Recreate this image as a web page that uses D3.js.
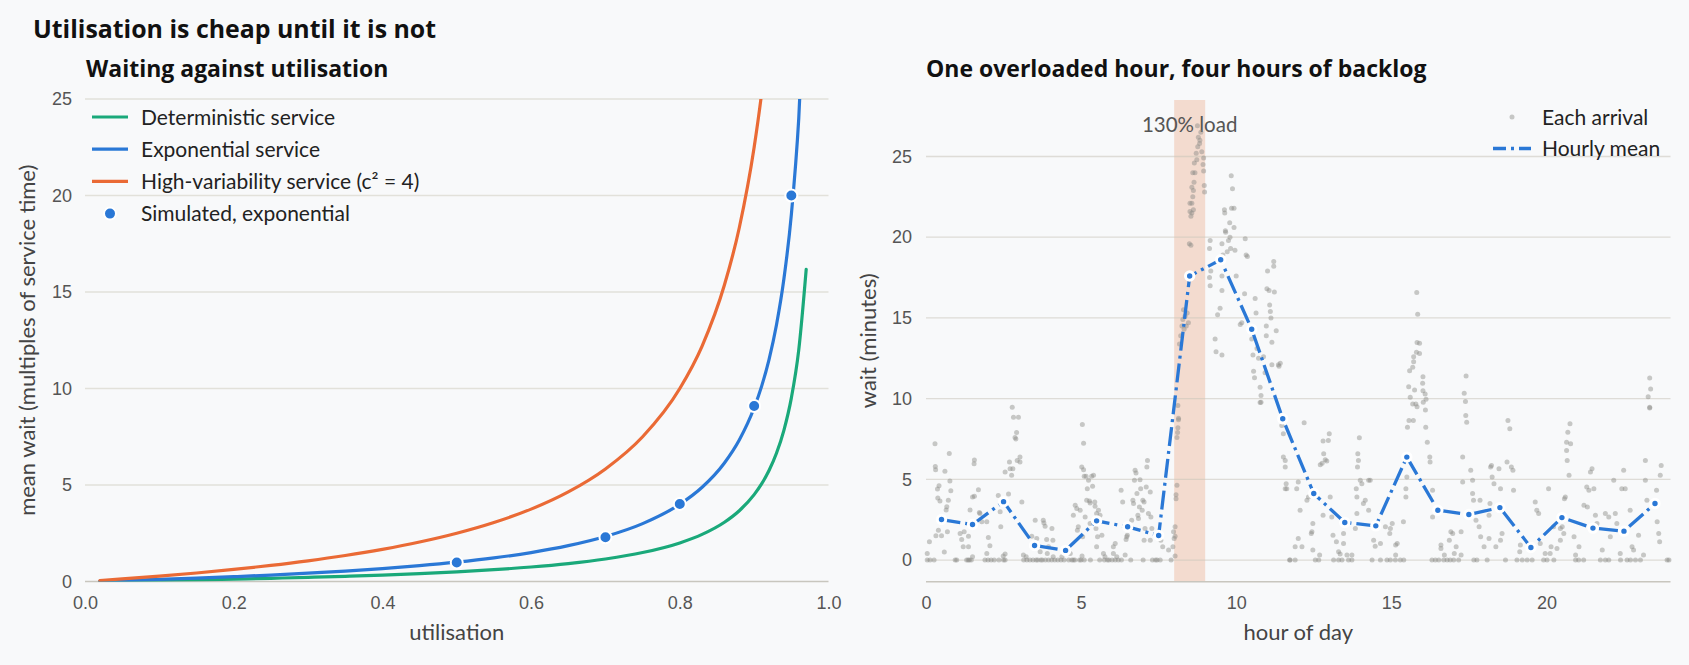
<!DOCTYPE html>
<html>
<head>
<meta charset="utf-8">
<script src="https://cdn.jsdelivr.net/npm/d3@7"></script>
<style>
  html, body { margin: 0; padding: 0; background: #f8f9fa; }
  svg { display: block; font-family: Lato, "Open Sans", sans-serif; }
  .bold { font-family: "Open Sans", "Noto Sans", sans-serif; font-weight: 700; }
</style>
</head>
<body>
<svg></svg>
<script>
const width = 1689;
const height = 665;

// left panel: mean wait vs utilisation
const utilisation = [0.02, 0.05, 0.1, 0.15, 0.2, 0.25, 0.3, 0.35, 0.4, 0.45, 0.5, 0.55, 0.6, 0.65, 0.7,
  0.75, 0.8, 0.83, 0.86, 0.88, 0.9, 0.91, 0.92, 0.93, 0.94, 0.95, 0.96, 0.97];
const deterministicWait = [0.010, 0.026, 0.056, 0.088, 0.125, 0.167, 0.214, 0.269, 0.333, 0.409, 0.5, 0.611,
  0.75, 0.929, 1.167, 1.5, 2.0, 2.441, 3.071, 3.667, 4.5, 5.056, 5.75, 6.643, 7.833, 9.5, 12.0, 16.17];
const exponentialWait = [0.020, 0.053, 0.111, 0.176, 0.25, 0.333, 0.429, 0.538, 0.667, 0.818, 1.0, 1.222,
  1.5, 1.857, 2.333, 3.0, 4.0, 4.882, 6.143, 7.333, 9.0, 10.11, 11.5, 13.29, 15.67, 19.0, 24.0, 32.3];
const highVarWait = [0.051, 0.132, 0.278, 0.441, 0.625, 0.833, 1.071, 1.346, 1.667, 2.045, 2.5, 3.056,
  3.75, 4.643, 5.833, 7.5, 10.0, 12.2, 15.36, 18.33, 22.5, 25.28, 28.75, 33.2, 39.2, 47.5, 60, 80.8];
const simUtilisation = [0.5, 0.7, 0.8, 0.9, 0.95];
const simWait = [0.98, 2.29, 4.02, 9.09, 20.0];

const seriesLabels = ["Deterministic service", "Exponential service", "High-variability service (c\u00b2 = 4)"];
const simLabel = "Simulated, exponential";

// right panel: one day of arrivals
const hourMid = [0.5, 1.5, 2.5, 3.5, 4.5, 5.5, 6.5, 7.5, 8.5, 9.5, 10.5, 11.5,
  12.5, 13.5, 14.5, 15.5, 16.5, 17.5, 18.5, 19.5, 20.5, 21.5, 22.5, 23.5];
const hourlyMean = [2.51, 2.20, 3.62, 0.90, 0.60, 2.43, 2.06, 1.52, 17.6, 18.6, 14.3, 8.75,
  4.12, 2.33, 2.12, 6.38, 3.09, 2.82, 3.25, 0.78, 2.63, 1.98, 1.79, 3.5];

// arrivals with zero wait (hour only)
const zeroWaitHours = [0.04, 0.13, 0.26, 0.94, 0.99, 1.31, 1.36, 1.4, 1.46, 1.9, 2.0, 2.1, 2.2, 2.35, 2.5,
  2.55, 3.15, 3.25, 3.35, 3.45, 3.55, 3.6, 3.7, 3.75, 3.85, 3.95, 4.05, 4.15, 4.25, 4.35, 4.45, 4.6, 4.7,
  4.75, 4.8, 4.95, 5.0, 5.1, 5.3, 5.6, 5.75, 5.85, 5.9, 6.0, 6.1, 6.2, 6.3, 6.6, 7.0, 7.3, 7.4, 7.45,
  7.55, 7.9, 11.72, 11.74, 11.9, 12.55, 12.66, 13.14, 13.3, 13.41, 13.62, 13.73, 14.38, 14.65, 14.86,
  14.97, 15.13, 15.29, 15.4, 16.31, 16.42, 16.53, 16.69, 16.8, 16.9, 17.01, 17.17, 17.66, 17.76, 18.09,
  18.68, 19.05, 19.22, 19.38, 19.54, 19.91, 20.02, 20.24, 20.94, 21.04, 21.2, 21.74, 21.9, 22.01, 22.39,
  22.6, 22.71, 22.87, 23.03, 23.89, 23.95];

// arrivals that waited: [hour, wait in minutes]
const arrivals = [
  [0.04, 0.41], [0.11, 1.13], [0.29, 7.2], [0.30, 5.8], [0.31, 5.6], [0.37, 4.4], [0.42, 4.6], [0.38, 3.85],
  [0.45, 3.66], [0.61, 5.5], [0.75, 6.6], [0.77, 4.9], [0.8, 4.3], [0.72, 3.7], [0.67, 3.3], [0.65, 3.1],
  [0.69, 1.75], [0.59, 0.5], [0.5, 1.5], [0.32, 1.5], [0.4, 1.85],
  [1.1, 1.65], [1.15, 1.28], [1.2, 0.82], [1.23, 1.75], [1.37, 0.82], [1.37, 1.48], [1.42, 3.1], [1.5, 3.9],
  [1.56, 3.95], [1.55, 5.97], [1.56, 6.2], [1.69, 4.36], [1.74, 2.88], [1.72, 2.94], [1.5, 0.2], [1.96, 0.41],
  [2.01, 1.4], [2.06, 0.88], [1.8, 2.37], [1.96, 2.37],
  [2.33, 4.0], [2.39, 3.0], [2.41, 2.06], [2.55, 5.45], [2.66, 4.1], [2.71, 5.66], [2.76, 5.25], [2.78, 9.46],
  [2.82, 8.85], [2.87, 7.6], [2.9, 7.5], [2.92, 7.9], [2.94, 6.17], [3.03, 6.07], [3.03, 6.38], [2.98, 8.85],
  [2.69, 6.07], [2.8, 5.66], [3.09, 3.6], [2.49, 0.25], [2.55, 0.37],
  [3.14, 0.31], [3.23, 0.2], [3.41, 1.48], [3.52, 2.47], [3.57, 1.34], [3.78, 2.47], [3.8, 2.3], [3.84, 2.1],
  [3.89, 1.28], [3.95, 0.82], [3.68, 0.51], [4.06, 1.95], [4.09, 1.23], [3.91, 0.41], [4.1, 0.2],
  [4.38, 0.2], [4.65, 0.41], [4.75, 2.78], [4.81, 3.4], [4.86, 3.19], [4.91, 2.06], [4.97, 3.09], [5.04, 8.4],
  [5.08, 7.24], [5.02, 5.76], [5.08, 5.6], [5.1, 5.19], [5.16, 5.19], [5.2, 4.42], [5.13, 2.67], [5.18, 3.7],
  [5.24, 4.94], [5.27, 3.66], [5.29, 3.54], [5.34, 5.19], [5.37, 4.57], [5.4, 5.25], [5.44, 3.6], [5.45, 3.33],
  [5.5, 2.88], [5.56, 3.09], [5.61, 2.78], [5.67, 1.54], [5.53, 1.44], [5.5, 0.82], [5.48, 1.95], [5.29, 2.26],
  [5.05, 1.44], [4.88, 1.85], [5.03, 0.25],
  [5.72, 0.41], [5.77, 0.2], [6.04, 0.82], [6.1, 1.03], [6.04, 0.41], [6.15, 0.2], [6.29, 4.32], [6.34, 3.6],
  [6.42, 0.31], [6.45, 1.28], [6.47, 1.44], [6.49, 1.54], [6.53, 2.06], [6.63, 2.47], [6.67, 3.7], [6.69, 3.5],
  [6.72, 4.94], [6.74, 5.56], [6.77, 5.39], [6.8, 4.12], [6.83, 2.78], [6.85, 2.57], [6.88, 3.29], [6.9, 4.98],
  [6.92, 4.42], [6.97, 3.09], [6.99, 3.7], [7.03, 3.6], [7.1, 4.53], [7.14, 6.17], [7.12, 5.76], [7.17, 2.88],
  [7.23, 4.22], [7.25, 2.67], [7.28, 1.95], [7.23, 1.23], [7.03, 1.23], [7.06, 1.95], [7.57, 1.23], [7.63, 0.82],
  [7.82, 0.62], [7.98, 1.75], [8.0, 1.34], [7.96, 0.82],
  [8.03, 2.06], [8.03, 1.48], [8.06, 3.8], [8.06, 4.05], [8.09, 4.63], [8.09, 7.6], [8.11, 7.9], [8.12, 8.2],
  [8.14, 8.7], [8.12, 9.57], [8.03, 0.25], [8.14, 8.79], [8.17, 13.38], [8.21, 13.9], [8.25, 14.5], [8.28, 14.9],
  [8.3, 15.5], [8.35, 15.1], [8.39, 14.5], [8.42, 15.3], [8.46, 14.7], [8.32, 14.3], [8.49, 19.6], [8.54, 19.5],
  [8.54, 21.3], [8.57, 22.1], [8.6, 22.5], [8.62, 22.9], [8.57, 23.1], [8.64, 23.4], [8.67, 24.0], [8.6, 24.0],
  [8.65, 24.6], [8.73, 24.8], [8.71, 25.2], [8.76, 25.6], [8.82, 25.8], [8.78, 26.2], [8.83, 26.0], [8.86, 26.5],
  [8.75, 26.9], [8.89, 25.3], [8.95, 24.9], [8.93, 24.5], [8.95, 24.1], [8.97, 23.2], [8.98, 22.8], [8.57, 21.5],
  [8.62, 21.7], [8.51, 22.1], [8.51, 21.6],
  [9.16, 19.8], [9.14, 19.3], [9.18, 17.9], [9.14, 17.5], [9.16, 17.0], [9.54, 19.6], [9.57, 18.9], [9.62, 21.7],
  [9.63, 21.5], [9.65, 20.4], [9.66, 20.3], [9.71, 19.1], [9.75, 19.8], [9.79, 20.9], [9.8, 20.0], [9.82, 19.3],
  [9.84, 23.8], [9.88, 23.0], [9.85, 21.8], [9.93, 21.8], [9.93, 20.6], [9.96, 19.2], [10.0, 17.6], [9.54, 17.6],
  [9.54, 16.7], [9.32, 13.7], [9.35, 12.9], [9.4, 15.2], [9.48, 15.6], [9.54, 12.7],
  [10.13, 14.6], [10.18, 14.7], [10.27, 16.5], [10.32, 18.9], [10.36, 18.8], [10.29, 19.9], [10.5, 13.7],
  [10.54, 12.7], [10.56, 11.7], [10.59, 11.3], [10.61, 16.2], [10.64, 15.3], [10.67, 13.1], [10.72, 12.5],
  [10.77, 10.7], [10.8, 10.2], [10.77, 9.76], [10.88, 12.6], [10.93, 11.6], [10.97, 14.5], [10.99, 16.8],
  [11.01, 17.9], [11.06, 16.7], [11.08, 15.8], [11.1, 15.4], [11.12, 15.0], [11.15, 13.5], [11.21, 18.2],
  [11.23, 16.6], [11.21, 18.5], [11.29, 14.2], [11.36, 12.1], [11.38, 12.0], [11.15, 12.1], [10.97, 13.9],
  [10.8, 9.77], [11.42, 12.2],
  [11.47, 8.33], [11.52, 7.82], [11.52, 6.38], [11.58, 6.17], [11.58, 5.76], [11.58, 4.42], [11.61, 4.73],
  [11.63, 4.42], [12.0, 4.84], [11.95, 4.42], [12.19, 8.5], [12.06, 3.09], [12.12, 0.82], [11.9, 0.82],
  [12.0, 1.34], [12.28, 3.7], [12.33, 3.9], [12.44, 1.75], [12.42, 1.65], [12.47, 0.62], [12.47, 2.26],
  [12.69, 0.31], [12.71, 5.9], [12.77, 6.0], [12.8, 7.37], [12.82, 6.58], [12.87, 6.21], [12.92, 6.13],
  [12.97, 7.41], [13.0, 7.82], [12.8, 2.78], [13.03, 3.9], [13.08, 2.67], [13.12, 1.54], [13.23, 1.13],
  [13.3, 0.51], [13.35, 0.37], [13.46, 1.65], [13.46, 1.03], [13.57, 0.31], [13.73, 0.31], [13.84, 1.95],
  [13.89, 2.88], [13.89, 3.9], [13.87, 4.42], [13.91, 5.76], [13.94, 6.17], [13.92, 6.58], [13.97, 7.57],
  [14.0, 4.94], [14.05, 4.73], [14.1, 3.5], [14.16, 3.7], [14.27, 3.09], [14.27, 4.94], [14.32, 4.94],
  [14.43, 1.23], [14.48, 0.86], [14.65, 1.03], [14.81, 2.06], [14.95, 1.65], [14.97, 1.95], [15.03, 2.26],
  [15.14, 0.93], [15.19, 1.03], [15.14, 0.31],
  [15.39, 2.37], [15.47, 3.9], [15.47, 4.42], [15.5, 5.14], [15.52, 8.23], [15.57, 8.64], [15.71, 8.64],
  [15.79, 9.67], [15.56, 10.74], [15.59, 11.73], [15.69, 11.94], [15.72, 12.29], [15.72, 12.6], [15.81, 12.88],
  [15.91, 12.8], [15.83, 13.48], [15.91, 13.43], [15.85, 15.23], [15.82, 16.58], [15.61, 10.08], [15.69, 9.67],
  [15.75, 10.54], [15.83, 9.5], [16.02, 11.35], [16.01, 10.95], [16.02, 10.49], [16.09, 10.29], [16.12, 9.96],
  [16.03, 9.78], [16.1, 9.3],
  [16.11, 8.23], [16.16, 7.3], [16.24, 6.38], [16.25, 6.07], [16.33, 4.32], [16.33, 2.67], [16.6, 0.93],
  [16.6, 0.72], [16.71, 0.31], [16.87, 1.23], [16.92, 1.75], [16.98, 1.65], [17.03, 0.41], [17.09, 0.82],
  [17.25, 0.31], [17.25, 1.75], [17.3, 6.38], [17.3, 4.84], [17.4, 8.95], [17.43, 8.54], [17.35, 10.33],
  [17.39, 9.83], [17.41, 11.4], [17.56, 5.56], [17.62, 4.94], [17.62, 4.12], [17.65, 3.7], [17.73, 2.47],
  [17.83, 2.06], [17.86, 3.7], [17.88, 1.44], [17.99, 0.82],
  [18.15, 1.34], [18.15, 2.78], [18.18, 3.5], [18.2, 5.76], [18.23, 5.86], [18.25, 5.14], [18.31, 4.73],
  [18.37, 0.82], [18.47, 5.66], [18.52, 4.42], [18.52, 1.23], [18.57, 1.65], [18.73, 6.07], [18.76, 8.64],
  [18.82, 8.13], [18.87, 5.76], [18.94, 4.32], [18.92, 5.56], [19.16, 0.93], [19.14, 0.51],
  [19.64, 3.6], [19.69, 3.09], [19.75, 2.88], [19.8, 1.03], [19.96, 0.41], [20.07, 4.42], [20.12, 0.41],
  [20.15, 0.82], [20.23, 2.06], [20.34, 0.72], [20.45, 1.23], [20.45, 1.95], [20.51, 2.06], [20.54, 2.47],
  [20.56, 1.65], [20.61, 3.9], [20.58, 3.8], [20.65, 7.3], [20.65, 6.79], [20.67, 6.17], [20.69, 7.92],
  [20.76, 8.44], [20.73, 5.25], [20.78, 7.2], [20.89, 1.44], [20.94, 0.31],
  [21.05, 0.82], [21.21, 3.4], [21.3, 4.53], [21.32, 3.29], [21.37, 4.32], [21.42, 5.45], [21.47, 5.66],
  [21.53, 4.42], [21.58, 2.78], [21.63, 2.26], [21.8, 0.62], [21.9, 2.88], [22.01, 2.67], [22.06, 1.44],
  [22.17, 4.94], [22.22, 2.88], [22.27, 2.26], [22.38, 0.41], [22.43, 4.42], [22.49, 5.56], [22.54, 4.42],
  [22.7, 3.09], [22.76, 0.82], [22.81, 0.62], [22.97, 1.54],
  [23.13, 0.31], [23.19, 4.94], [23.19, 6.17], [23.24, 3.7], [23.33, 9.47], [23.33, 11.28], [23.36, 10.6],
  [23.28, 10.12], [23.33, 9.42], [23.55, 4.32], [23.57, 2.37], [23.62, 1.65], [23.65, 1.13], [23.67, 5.25],
  [23.7, 5.86]
];

const overloadStart = 8;
const overloadEnd = 9;

const green = "#1aa97a";
const blue = "#2a78d6";
const orange = "#ea6a35";
const gridColor = "#e2e1da";
const spineColor = "#c8c6be";
const tickColor = "#555555";
const dotColor = "#8a8984";
const dashDot = "19,5,3,5";

const svg = d3.select("svg")
  .attr("width", width)
  .attr("height", height)
  .attr("viewBox", `0 0 ${width} ${height}`);

svg.append("rect").attr("width", width).attr("height", height).attr("fill", "#f8f9fa");

svg.append("text")
  .attr("class", "bold")
  .attr("x", 33).attr("y", 38)
  .attr("font-size", 24.9).attr("fill", "#111")
  .text("Utilisation is cheap until it is not");

// ---------- LEFT PANEL ----------

const xL = d3.scaleLinear().domain([0, 1]).range([85, 828.5]);
const yL = d3.scaleLinear().domain([0, 25]).range([581.5, 99]);

const left = svg.append("g");

left.append("text")
  .attr("class", "bold")
  .attr("x", 86).attr("y", 77)
  .attr("font-size", 23).attr("fill", "#111")
  .text("Waiting against utilisation");

left.append("g")
  .selectAll("line")
  .data([5, 10, 15, 20, 25])
  .join("line")
  .attr("x1", xL(0)).attr("x2", xL(1))
  .attr("y1", d => yL(d)).attr("y2", d => yL(d))
  .attr("stroke", gridColor).attr("stroke-width", 1.3);

left.append("line")
  .attr("x1", xL(0)).attr("x2", xL(1))
  .attr("y1", yL(0)).attr("y2", yL(0))
  .attr("stroke", spineColor).attr("stroke-width", 1.6);

const xAxisL = left.append("g")
  .attr("transform", `translate(0, ${yL(0)})`)
  .call(d3.axisBottom(xL).tickValues([0, 0.2, 0.4, 0.6, 0.8, 1.0]).tickFormat(d3.format(".1f")).tickSize(0).tickPadding(15));

const yAxisL = left.append("g")
  .attr("transform", `translate(${xL(0)}, 0)`)
  .call(d3.axisLeft(yL).tickValues([0, 5, 10, 15, 20, 25]).tickSize(0).tickPadding(13));

[xAxisL, yAxisL].forEach(a => {
  a.select(".domain").remove();
  a.selectAll("text").attr("font-size", 18).attr("fill", tickColor).attr("font-family", null);
});

left.append("text")
  .attr("x", (xL(0) + xL(1)) / 2).attr("y", 640)
  .attr("text-anchor", "middle").attr("font-size", 22).attr("fill", "#444")
  .text("utilisation");

left.append("text")
  .attr("transform", `translate(35, ${(yL(0) + yL(25)) / 2}) rotate(-90)`)
  .attr("text-anchor", "middle").attr("font-size", 22).attr("fill", "#444")
  .text("mean wait (multiples of service time)");

svg.append("defs").append("clipPath").attr("id", "clipL")
  .append("rect")
  .attr("x", xL(0)).attr("y", yL(25))
  .attr("width", xL(1) - xL(0)).attr("height", yL(0) - yL(25));

const lineL = d3.line()
  .x(d => xL(d[0]))
  .y(d => yL(d[1]))
  .curve(d3.curveMonotoneX);

const curves = [
  {label: seriesLabels[0], values: deterministicWait, color: green},
  {label: seriesLabels[1], values: exponentialWait, color: blue},
  {label: seriesLabels[2], values: highVarWait, color: orange}
];

const curveG = left.append("g").attr("clip-path", "url(#clipL)");

curveG.selectAll("path")
  .data(curves)
  .join("path")
  .attr("d", d => lineL(utilisation.map((u, i) => [u, d.values[i]])))
  .attr("fill", "none")
  .attr("stroke", d => d.color)
  .attr("stroke-width", 3.2)
  .attr("stroke-linecap", "round");

left.append("g")
  .selectAll("circle")
  .data(simUtilisation.map((u, i) => [u, simWait[i]]))
  .join("circle")
  .attr("cx", d => xL(d[0]))
  .attr("cy", d => yL(d[1]))
  .attr("r", 6)
  .attr("fill", blue)
  .attr("stroke", "#fff")
  .attr("stroke-width", 2);

const legendL = left.append("g").attr("transform", "translate(92, 117)");

const legItem = legendL.selectAll("g")
  .data(curves)
  .join("g")
  .attr("transform", (d, i) => `translate(0, ${i * 32.2})`);

legItem.append("line")
  .attr("x1", 0).attr("x2", 36)
  .attr("stroke", d => d.color).attr("stroke-width", 3.2);

legItem.append("text")
  .attr("x", 49).attr("y", 7.5)
  .attr("font-size", 21).attr("fill", "#222")
  .text(d => d.label);

const simLeg = legendL.append("g").attr("transform", `translate(0, ${3 * 32.2})`);
simLeg.append("circle").attr("cx", 18).attr("r", 6).attr("fill", blue).attr("stroke", "#fff").attr("stroke-width", 2);
simLeg.append("text").attr("x", 49).attr("y", 7.5).attr("font-size", 21).attr("fill", "#222").text(simLabel);

// ---------- RIGHT PANEL ----------

const xR = d3.scaleLinear().domain([0, 24]).range([926, 1670.5]);
const yR = d3.scaleLinear().domain([-1.34, 28.5]).range([581.7, 100]);

const right = svg.append("g");

right.append("text")
  .attr("class", "bold")
  .attr("x", 926).attr("y", 77)
  .attr("font-size", 23).attr("fill", "#111")
  .text("One overloaded hour, four hours of backlog");

right.append("rect")
  .attr("x", xR(overloadStart)).attr("width", xR(overloadEnd) - xR(overloadStart))
  .attr("y", yR(28.5)).attr("height", yR(-1.34) - yR(28.5))
  .attr("fill", "#f3dbcf");

right.append("g")
  .selectAll("line")
  .data([0, 5, 10, 15, 20, 25])
  .join("line")
  .attr("x1", xR(0)).attr("x2", xR(24))
  .attr("y1", d => yR(d)).attr("y2", d => yR(d))
  .attr("stroke", "#c9c5ba").attr("stroke-opacity", 0.55).attr("stroke-width", 1.3);

right.append("line")
  .attr("x1", xR(0)).attr("x2", xR(24))
  .attr("y1", yR(-1.34)).attr("y2", yR(-1.34))
  .attr("stroke", spineColor).attr("stroke-width", 1.6);

const xAxisR = right.append("g")
  .attr("transform", `translate(0, ${yR(-1.34)})`)
  .call(d3.axisBottom(xR).tickValues([0, 5, 10, 15, 20]).tickSize(0).tickPadding(15));

const yAxisR = right.append("g")
  .attr("transform", `translate(${xR(0)}, 0)`)
  .call(d3.axisLeft(yR).tickValues([0, 5, 10, 15, 20, 25]).tickSize(0).tickPadding(14));

[xAxisR, yAxisR].forEach(a => {
  a.select(".domain").remove();
  a.selectAll("text").attr("font-size", 18).attr("fill", tickColor).attr("font-family", null);
});

right.append("text")
  .attr("x", (xR(0) + xR(24)) / 2).attr("y", 640)
  .attr("text-anchor", "middle").attr("font-size", 22).attr("fill", "#444")
  .text("hour of day");

right.append("text")
  .attr("transform", `translate(876, ${(yR(-1.34) + yR(28.5)) / 2}) rotate(-90)`)
  .attr("text-anchor", "middle").attr("font-size", 22).attr("fill", "#444")
  .text("wait (minutes)");

right.append("text")
  .attr("x", xR((overloadStart + overloadEnd) / 2)).attr("y", 132)
  .attr("text-anchor", "middle").attr("font-size", 20.5).attr("fill", "#555")
  .text("130% load");

const allArrivals = zeroWaitHours.map(h => [h, 0]).concat(arrivals);

right.append("g")
  .selectAll("circle")
  .data(allArrivals)
  .join("circle")
  .attr("cx", d => xR(d[0]))
  .attr("cy", d => yR(d[1]))
  .attr("r", 2.5)
  .attr("fill", dotColor)
  .attr("fill-opacity", 0.45);

const lineR = d3.line()
  .x(d => xR(d[0]))
  .y(d => yR(d[1]));

const meanPts = hourMid.map((h, i) => [h, hourlyMean[i]]);

right.append("path")
  .attr("d", lineR(meanPts))
  .attr("fill", "none")
  .attr("stroke", blue)
  .attr("stroke-width", 3.3)
  .attr("stroke-dasharray", dashDot);

right.append("g")
  .selectAll("circle")
  .data(meanPts)
  .join("circle")
  .attr("cx", d => xR(d[0]))
  .attr("cy", d => yR(d[1]))
  .attr("r", 4.2)
  .attr("fill", blue)
  .attr("stroke", "#fff")
  .attr("stroke-width", 3);

const legendR = right.append("g").attr("transform", "translate(1493, 117)");

legendR.append("circle")
  .attr("cx", 19).attr("r", 2.5)
  .attr("fill", dotColor).attr("fill-opacity", 0.45);

legendR.append("text")
  .attr("x", 49).attr("y", 7.5)
  .attr("font-size", 21).attr("fill", "#222")
  .text("Each arrival");

legendR.append("line")
  .attr("x1", 0).attr("x2", 38).attr("y1", 31.5).attr("y2", 31.5)
  .attr("stroke", blue).attr("stroke-width", 3.3)
  .attr("stroke-dasharray", dashDot)
  .attr("stroke-dashoffset", 6);

legendR.append("text")
  .attr("x", 49).attr("y", 39)
  .attr("font-size", 21).attr("fill", "#222")
  .text("Hourly mean");
</script>
</body>
</html>
